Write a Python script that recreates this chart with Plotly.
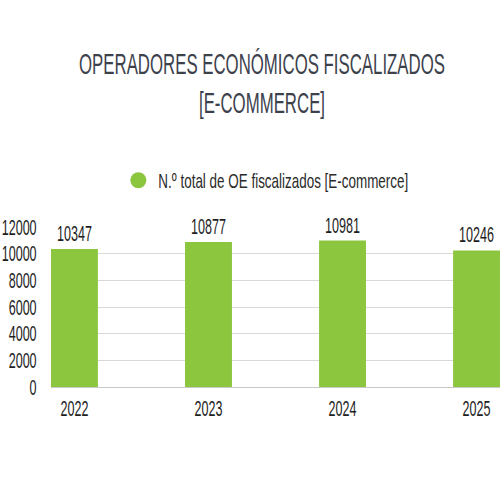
import plotly.graph_objects as go

years = ["2022", "2023", "2024", "2025"]
totals = [10347, 10877, 10981, 10246]
y_ticks = [0, 2000, 4000, 6000, 8000, 10000, 12000]
series_name = "N.º total de OE fiscalizados [E-commerce]"
title = "OPERADORES ECONÓMICOS FISCALIZADOS<br>[E-COMMERCE]"

green = "#8cc63f"
font = "Liberation Sans, Arial, sans-serif"
ink = "#1e1e1e"

fig = go.Figure()
fig.add_trace(go.Bar(
    x=years, y=totals,
    marker=dict(color=green, line=dict(width=0)),
    text=[str(v) for v in totals],
    textposition="outside",
    constraintext="none",
    textfont=dict(family=font, size=22, color=ink),
    cliponaxis=False,
    showlegend=False,
))
# legend entry with a round swatch
fig.add_trace(go.Scatter(
    x=[None], y=[None], mode="markers", name=series_name,
    marker=dict(symbol="circle", size=20, color=green),
))

fig.update_layout(
    width=500, height=500,
    margin=dict(l=51, r=0, t=227, b=113, autoexpand=False),
    paper_bgcolor="white", plot_bgcolor="white",
    bargap=0.65,
    title=dict(
        text=title, x=0.524, xanchor="center", xref="container",
        y=0.852, yanchor="middle", yref="container",
        font=dict(family=font, size=30, color="#3c414c"),
    ),
    legend=dict(
        orientation="h", x=0.15, xanchor="left", y=1.29, yanchor="middle",
        font=dict(family=font, size=21, color="#2a2a2a"),
    ),
    xaxis=dict(
        type="category", range=[-0.175, 3.175], automargin=False,
        showgrid=False, showline=True, linecolor="#c8c8c8", linewidth=1,
        tickfont=dict(family=font, size=22, color=ink), tickangle=0,
        ticks="outside", ticklen=2, tickcolor="rgba(0,0,0,0)",
    ),
    yaxis=dict(
        range=[0, 12000], tickvals=y_ticks, tickformat="d", automargin=False,
        showgrid=True, gridcolor="#d9d9d9", gridwidth=1,
        zeroline=False,
        tickfont=dict(family=font, size=22, color=ink),
        ticks="outside", ticklen=9, tickcolor="rgba(0,0,0,0)",
    ),
)

# the reference uses a condensed face: squeeze glyphs horizontally
squeeze = """
document.body.style.margin = '0';
var gd = document.getElementById('{plot_id}');
gd.querySelectorAll('svg.main-svg text').forEach(function(t){
  var k = 0.57;
  if (t.classList.contains('legendtext')) k = 0.64;
  if (t.classList.contains('gtitle')) k = 0.56;
  var spans = t.querySelectorAll('tspan.line');
  var els = spans.length ? Array.from(spans) : [t];
  els.forEach(function(e){
    var w = e.getComputedTextLength();
    if (w > 0) {
      e.setAttribute('textLength', w * k);
      e.setAttribute('lengthAdjust', 'spacingAndGlyphs');
    }
  });
});
"""

fig.write_html("out.html", post_script=squeeze, config={"displayModeBar": False})
